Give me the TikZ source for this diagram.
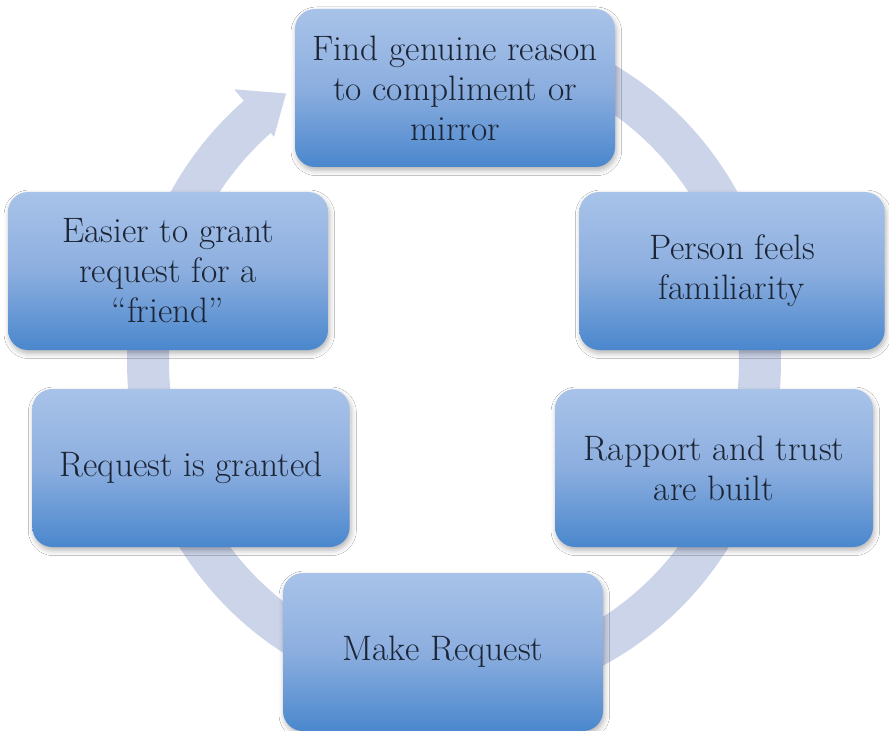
\documentclass[tikz,border=0pt]{standalone}
\usepackage{fontspec}
\usetikzlibrary{shadows.blur}
\definecolor{band}{HTML}{CCD4E9}
\definecolor{boxtop}{HTML}{A8C3E9}
\definecolor{boxmid}{HTML}{8CAEDF}
\definecolor{boxbot}{HTML}{4A87CD}
\definecolor{txt}{HTML}{1C2535}
\begin{document}
\begin{tikzpicture}[x=0.75pt,y=-0.75pt,
  stage/.style={rectangle, rounded corners=15pt, minimum width=240pt,
    minimum height=118.5pt, top color=boxtop, bottom color=boxbot,
    middle color=boxmid, align=center, text=txt, inner sep=0pt,
    font=\fontsize{26.5}{30}\selectfont,
    blur shadow={shadow xshift=1pt, shadow yshift=-2.5pt,
      shadow blur radius=4pt, shadow opacity=30}},
  ring/.style={fill=band, draw=none}]
\useasboundingbox (0,0) rectangle (889,731);
\fill[white] (0,0) rectangle (889,731);
% circular arrow band with its head
\path[ring]
  plot[domain=112:-230, samples=240] ({454+327*cos(\x)}, {362-341*sin(\x)})
  -- (234.2,89.3) -- (286,93.5) -- (274.0,136.8)
  -- plot[domain=-230:112, samples=240] ({454+285*cos(\x)}, {362-299*sin(\x)})
  -- cycle;
% stages
\node[stage] (find) at (455,88) {Find genuine reason\\to compliment or\\mirror};
\node[stage, minimum width=229pt] (familiar) at (732,271) {Person feels\\familiarity};
\node[stage, minimum width=238.5pt] (rapport) at (714,468) {Rapport and trust\\are built};
\node[stage] (make) at (443,652) {Make Request};
\node[stage, minimum width=238pt] (granted) at (191,468) {Request is granted};
\node[stage] (easier) at (168,271) {Easier to grant\\request for a\\“friend”};
\end{tikzpicture}
\end{document}
